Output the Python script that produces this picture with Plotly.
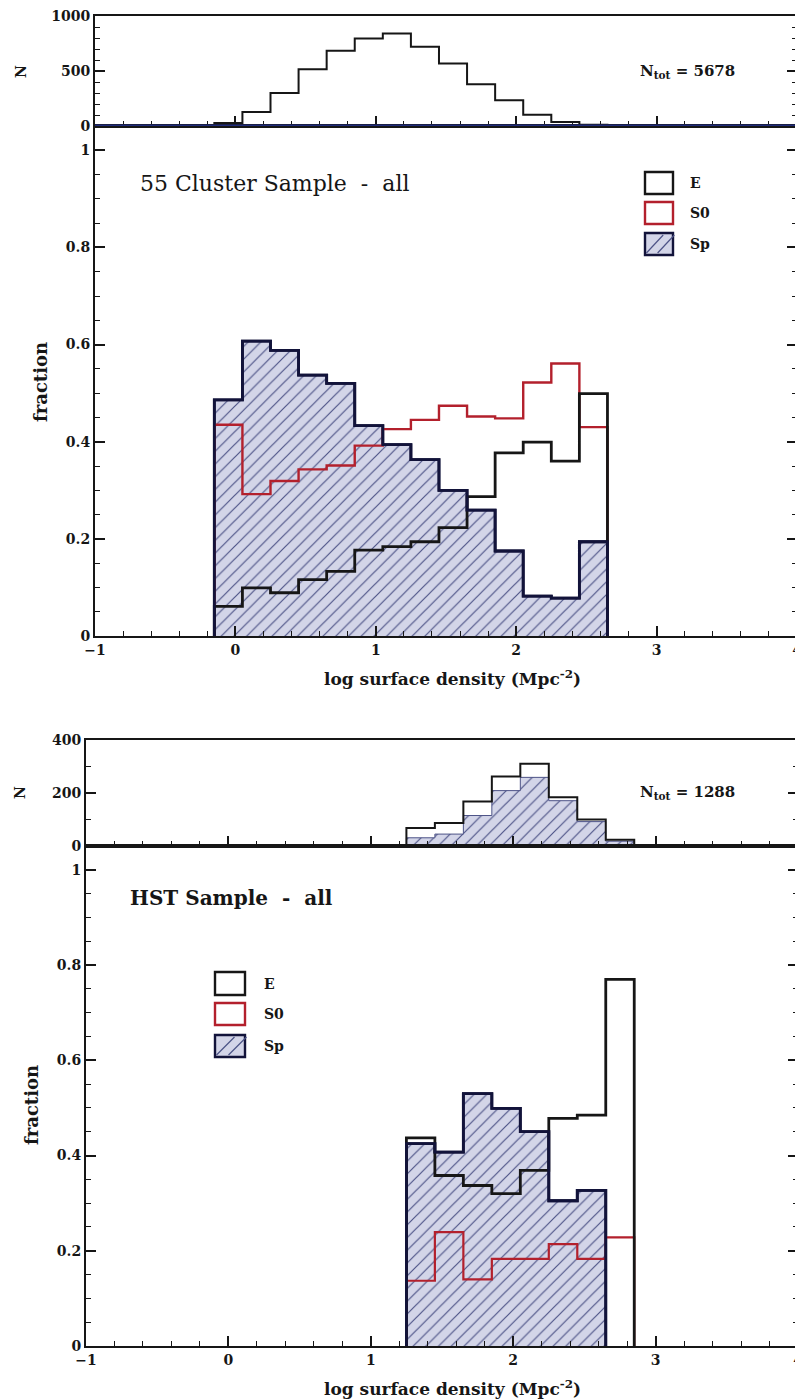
import plotly.graph_objects as go

OFF = 8  # browser body margin
W, H = 803 - OFF, 1400 - OFF

# ---------------- data ----------------
# 55 Cluster sample: bins of log surface density (edges)
top_edges = [-0.15, 0.05, 0.25, 0.45, 0.65, 0.85, 1.05, 1.25, 1.45, 1.65, 1.85, 2.05, 2.25, 2.45, 2.65]
top_N = [27, 128, 301, 517, 684, 796, 842, 720, 568, 380, 234, 103, 36, 12]
top_frac_E = [0.061, 0.099, 0.089, 0.116, 0.133, 0.177, 0.184, 0.194, 0.223, 0.287, 0.377, 0.399, 0.360, 0.499]
top_frac_S0 = [0.435, 0.292, 0.319, 0.343, 0.351, 0.392, 0.426, 0.445, 0.474, 0.452, 0.448, 0.522, 0.561, 0.430]
top_frac_Sp = [0.486, 0.607, 0.588, 0.537, 0.520, 0.433, 0.394, 0.363, 0.300, 0.259, 0.175, 0.082, 0.078, 0.194]
top_Ntot = 5678

# HST sample
bot_edges = [1.25, 1.45, 1.65, 1.85, 2.05, 2.25, 2.45, 2.65, 2.85]
bot_N = [68, 87, 168, 262, 310, 184, 100, 24]
bot_N_hatched = [31, 45, 115, 209, 259, 171, 92, 18]
bot_frac_E = [0.437, 0.358, 0.337, 0.320, 0.369, 0.478, 0.485, 0.770]
bot_frac_S0 = [0.137, 0.239, 0.140, 0.183, 0.183, 0.214, 0.183, 0.228]
bot_frac_Sp = [0.425, 0.407, 0.530, 0.499, 0.450, 0.305, 0.327]
bot_Ntot = 1288

x_ticks = [-1, 0, 1, 2, 3, 4]
frac_ticks = [0, 0.2, 0.4, 0.6, 0.8, 1]

# ---------------- styles ----------------
FONT = "DejaVu Serif"
BLACK = "#161616"
RED = "#b3202c"
NAVY = "#12133a"
ZERO_NAVY = "#1f2b7a"
HATCH_BG = "#d3d5e8"
HATCH_FG = "#4d5387"


def step(edges, vals):
    xs = [edges[0]] + list(edges[:len(vals) + 1])
    ys = [0] + list(vals) + [0]
    return xs, ys


def px(x):
    return (x - OFF) / W


def py(y):
    return 1 - (y - OFF) / H


fig = go.Figure()

# ---- panel geometry (window pixels) ----
top_x = (95, 797)
bot_x = (86, 798)
topN_y = (16, 126)
topF_y = (126, 636)
botN_y = (740, 846)
botF_y = (846, 1346)


def hatched(xs, ys, xa, ya, lw, lc):
    return go.Scatter(x=xs, y=ys, xaxis=xa, yaxis=ya, mode="lines",
                      line=dict(shape="hv", color=lc, width=lw),
                      fill="tozeroy", fillcolor=HATCH_BG,
                      fillpattern=dict(shape="/", bgcolor=HATCH_BG, fgcolor=HATCH_FG,
                                       size=9, solidity=0.13, fillmode="replace"),
                      showlegend=False, hoverinfo="skip")


def outline(xs, ys, xa, ya, color, lw=2.4):
    return go.Scatter(x=xs, y=ys, xaxis=xa, yaxis=ya, mode="lines",
                      line=dict(shape="hv", color=color, width=lw),
                      showlegend=False, hoverinfo="skip")


# top N histogram
xs, ys = step(top_edges, top_N)
fig.add_trace(outline(xs, ys, "x", "y", BLACK, 2))

# top fraction
xs, ys = step(top_edges, top_frac_Sp)
fig.add_trace(hatched(xs, ys, "x2", "y2", 2.8, NAVY))
xs, ys = step(top_edges, top_frac_S0)
fig.add_trace(outline(xs, ys, "x2", "y2", RED, 2.4))
xs, ys = step(top_edges, top_frac_E)
fig.add_trace(outline(xs, ys, "x2", "y2", BLACK, 2.8))
xs, ys = step(top_edges, top_frac_Sp)
fig.add_trace(outline(xs, ys, "x2", "y2", NAVY, 2.8))

# bottom N histogram
xs, ys = step(bot_edges, bot_N_hatched)
fig.add_trace(hatched(xs, ys, "x3", "y3", 1, HATCH_FG))
xs, ys = step(bot_edges, bot_N)
fig.add_trace(outline(xs, ys, "x3", "y3", BLACK, 2))

# bottom fraction
xs, ys = step(bot_edges, bot_frac_Sp)
fig.add_trace(hatched(xs, ys, "x4", "y4", 2.8, NAVY))
xs, ys = step(bot_edges, bot_frac_S0)
fig.add_trace(outline(xs, ys, "x4", "y4", RED, 2.2))
xs, ys = step(bot_edges, bot_frac_E)
fig.add_trace(outline(xs, ys, "x4", "y4", BLACK, 2.8))
xs, ys = step(bot_edges, bot_frac_Sp)
fig.add_trace(outline(xs, ys, "x4", "y4", NAVY, 2.8))

tickfont = dict(family=FONT, size=14, color=BLACK, weight="bold")


def xaxis(dom, anchor, labels):
    return dict(domain=[px(dom[0]), px(dom[1])], anchor=anchor, range=[-1, 4],
                tickvals=x_ticks, ticks="inside", ticklen=10, tickwidth=1.5, tickcolor=BLACK,
                minor=dict(dtick=0.2, tick0=0, ticks="inside", ticklen=5, tickwidth=1.2, tickcolor=BLACK),
                showline=True, linecolor=BLACK, linewidth=2, mirror=True,
                showgrid=False, zeroline=False, showticklabels=labels, tickfont=tickfont,
                ticklabeloverflow="allow", automargin=False, fixedrange=True)


def yaxis(dom, anchor, rng, tv, minor_dt):
    return dict(domain=[py(dom[1]), py(dom[0])], anchor=anchor, range=rng,
                tickvals=tv, ticks="inside", ticklen=10, tickwidth=1.5, tickcolor=BLACK,
                minor=dict(dtick=minor_dt, tick0=0, ticks="inside", ticklen=5, tickwidth=1.2, tickcolor=BLACK),
                showline=True, linecolor=BLACK, linewidth=2, mirror="ticks",
                showgrid=False, zeroline=False,
                tickfont=tickfont, ticklabeloverflow="allow", automargin=False, fixedrange=True)


fig.update_layout(
    width=W, height=H, margin=dict(l=0, r=0, t=0, b=0),
    paper_bgcolor="white", plot_bgcolor="white", showlegend=False,
    template="none",
    xaxis=xaxis(top_x, "y", False),
    yaxis=yaxis(topN_y, "x", [0, 1000], [0, 500, 1000], 100),
    xaxis2=xaxis(top_x, "y2", True),
    yaxis2=yaxis(topF_y, "x2", [0, 1.05], frac_ticks, 0.05),
    xaxis3=xaxis(bot_x, "y3", False),
    yaxis3=yaxis(botN_y, "x3", [0, 400], [0, 200, 400], 100),
    xaxis4=xaxis(bot_x, "y4", True),
    yaxis4=yaxis(botF_y, "x4", [0, 1.05], frac_ticks, 0.05),
)

# navy baseline of the top N histogram (drawn on its own x axis at N = 0)
fig.add_shape(type="line", xref="x domain", yref="y", x0=0, x1=1, y0=0, y1=0,
              line=dict(color=ZERO_NAVY, width=3), layer="above")


def text(x, y, s, size, bold=False, anchor="left", angle=0):
    f = dict(family=FONT, size=size, color=BLACK)
    if bold:
        f["weight"] = "bold"
    fig.add_annotation(x=px(x), y=py(y), xref="paper", yref="paper", xanchor=anchor,
                       yanchor="middle", text=s, showarrow=False, font=f, textangle=angle)


# axis titles
xtitle = "log surface density (Mpc<sup>-2</sup>)"
text(452, 678, xtitle, 17, bold=True, anchor="center")
text(452, 1388, xtitle, 17, bold=True, anchor="center")
text(40, 382, "fraction", 18, bold=True, anchor="center", angle=-90)
text(31, 1105, "fraction", 18, bold=True, anchor="center", angle=-90)
text(21, 72, "N", 14, bold=True, anchor="center", angle=-90)
text(20, 793, "N", 14, bold=True, anchor="center", angle=-90)

# labels
text(638, 72, f"N<sub>tot</sub> = {top_Ntot}", 15, bold=True)
text(638, 793, f"N<sub>tot</sub> = {bot_Ntot}", 15, bold=True)
text(138, 184, "55 Cluster Sample  -  all", 22)
text(128, 898, "HST Sample  -  all", 20, bold=True)


# ---- legends (drawn as shapes) ----
def legend(x0, x1, ys, tx):
    names = ["E", "S0", "Sp"]
    cols = [BLACK, RED, NAVY]
    for (y0, y1), name, c in zip(ys, names, cols):
        fill = HATCH_BG if name == "Sp" else "white"
        fig.add_shape(type="rect", xref="paper", yref="paper",
                      x0=px(x0), x1=px(x1), y0=py(y1), y1=py(y0),
                      line=dict(color=c, width=2.4), fillcolor=fill)
        if name == "Sp":
            w = x1 - x0
            for f in (0.35, 0.75):
                fig.add_shape(type="line", xref="paper", yref="paper",
                              x0=px(x0 + w * (f - 0.3)), y0=py(y1 - 2),
                              x1=px(x0 + w * (f + 0.3)), y1=py(y0 + 2),
                              line=dict(color=HATCH_FG, width=1.2))
        text(tx, (y0 + y1) / 2, name, 14, bold=True)


legend(645, 673, [(172, 194), (202, 224), (233, 255)], 688)
legend(215, 245, [(972, 995), (1003, 1025), (1035, 1057)], 262)

fig.write_html("out.html")
